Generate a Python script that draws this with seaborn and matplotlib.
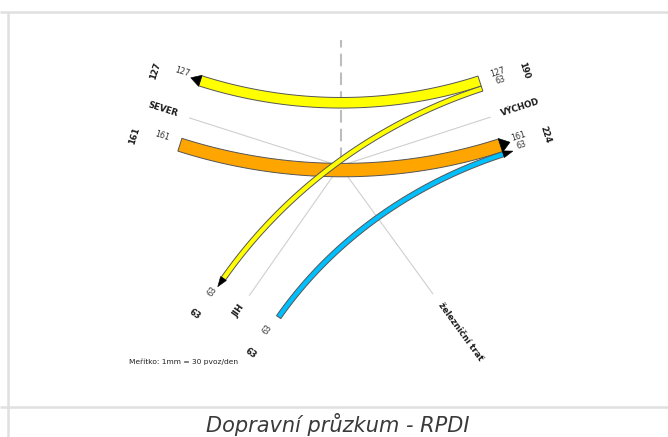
import numpy as np
import pandas as pd
import matplotlib
matplotlib.use("Agg")
import matplotlib.pyplot as plt
import seaborn as sns
from matplotlib.patches import Polygon

# ---------------- data ----------------
arm_names = ["SEVER", "VÝCHOD", "JIH", "železniční trať"]
flow_from = ["SEVER", "JIH", "VÝCHOD", "VÝCHOD"]
flow_to = ["VÝCHOD", "VÝCHOD", "SEVER", "JIH"]
flow_values = [161, 63, 127, 63]
title_text = "Dopravní průzkum - RPDI"
scale_text = "Meřítko: 1mm = 30 pvoz/den"

# ---------------- layout / style ----------------
arm_angles = {"SEVER": 162.3, "VÝCHOD": 18.0, "JIH": 235.0, "železniční trať": 306.0}
flow_colors = ["#FFA500", "#00BFFF", "#FFFF00", "#FFFF00"]
lane_gap = {("SEVER", "in"): 21.7, ("SEVER", "out"): 33.4,
            ("VÝCHOD", "in"): 27.1, ("VÝCHOD", "out"): 23.2,
            ("JIH", "in"): 33.8, ("JIH", "out"): 28.3,
            ("železniční trať", "in"): 28.0, ("železniční trať", "out"): 28.0}
center = np.array([340.0, 166.0])
R_END = 159.0
PX_PER_UNIT = 1 / 12.0
ARROW_LEN = 10.0

sns.set_theme(style="white")
plt.rcParams['font.family'] = ['DejaVu Sans']

fig = plt.figure(figsize=(6.68, 4.37), dpi=100)
ax = fig.add_axes([0, 0, 1, 1])
ax.set_xlim(0, 668)
ax.set_ylim(437, 0)
ax.axis("off")


def unit(a):
    r = np.radians(a)
    return np.array([np.cos(r), -np.sin(r)])


def entry_normal(a):
    u = unit(a)
    return np.array([u[1], -u[0]])


def norm180(a):
    return (a + 180) % 360 - 180


def text_rot(a):
    a = norm180(a)
    if -90 < a <= 90:
        return a, True
    return norm180(a - 180), False


# frame lines
ax.plot([0, 668], [12, 12], color="#e0e0e0", lw=1.8, solid_capstyle="butt")
ax.plot([0, 668], [407, 407], color="#e0e0e0", lw=1.8, solid_capstyle="butt")
ax.plot([8, 8], [12, 437], color="#e0e0e0", lw=1.8, solid_capstyle="butt")

# arm guide lines via seaborn
rows = []
for name in arm_names:
    u = unit(arm_angles[name])
    for r in (8, 158):
        p = center + u * r
        rows.append({"arm": name, "x": p[0], "y": p[1], "r": r})
arm_df = pd.DataFrame(rows)
sns.lineplot(data=arm_df, x="x", y="y", units="arm", estimator=None, sort=False,
             color="#cfcfcf", lw=0.8, ax=ax, legend=False)

# dashed vertical reference
ax.plot([center[0] + 1, center[0] + 1], [center[1] - 6, 40], color="#bdbdbd", lw=1.5,
        dashes=(6, 3), zorder=1)

# lane offsets
widths = [v * PX_PER_UNIT for v in flow_values]
start_off = {}
end_off = {}
lane_total = {}
for name in arm_names:
    a = arm_angles[name]
    ins = [i for i in range(len(flow_values)) if flow_from[i] == name]
    ins.sort(key=lambda i: -((arm_angles[flow_to[i]] - a) % 360))
    cum = lane_gap[(name, "in")]
    for i in ins:
        start_off[i] = cum + widths[i] / 2
        cum += widths[i]
    lane_total[(name, "in")] = sum(flow_values[i] for i in ins)
    outs = [i for i in range(len(flow_values)) if flow_to[i] == name]
    outs.sort(key=lambda i: ((arm_angles[flow_from[i]] - a) % 360))
    cum = lane_gap[(name, "out")]
    for i in outs:
        end_off[i] = cum + widths[i] / 2
        cum += widths[i]
    lane_total[(name, "out")] = sum(flow_values[i] for i in outs)

t = np.linspace(0, 1, 100)[:, None]
for i in range(len(flow_values)):
    aA = arm_angles[flow_from[i]]
    aB = arm_angles[flow_to[i]]
    uA, uB = unit(aA), unit(aB)
    eA, eB = entry_normal(aA), entry_normal(aB)
    P0 = center + uA * R_END + eA * start_off[i]
    P3 = center + uB * R_END - eB * end_off[i]
    k = 0.34 * np.linalg.norm(P3 - P0)
    P1 = P0 - uA * k
    P2 = P3 - uB * k
    B = ((1 - t) ** 3) * P0 + 3 * ((1 - t) ** 2) * t * P1 + 3 * (1 - t) * t ** 2 * P2 + t ** 3 * P3
    D = 3 * ((1 - t) ** 2) * (P1 - P0) + 6 * (1 - t) * t * (P2 - P1) + 3 * t ** 2 * (P3 - P2)
    D = D / np.linalg.norm(D, axis=1)[:, None]
    N = np.column_stack([-D[:, 1], D[:, 0]])
    w = widths[i]
    left = B + N * w / 2
    right = B - N * w / 2
    poly = np.vstack([left, right[::-1]])
    ax.add_patch(Polygon(poly, closed=True, facecolor=flow_colors[i],
                         edgecolor="#555555", lw=0.7, zorder=3 + i))
    bw = max(w + 1.0, 7.0)
    tip = P3 + uB * ARROW_LEN
    tri = np.array([P3 + eB * bw / 2, tip, P3 - eB * bw / 2])
    ax.add_patch(Polygon(tri, closed=True, facecolor="black", edgecolor="black",
                         lw=0.4, zorder=3 + i))

    # value labels
    rotA, _ = text_rot(aA)
    pA = center + uA * 178 + eA * start_off[i] + np.array([0, -3])
    ax.text(pA[0], pA[1], str(flow_values[i]), rotation=rotA, rotation_mode="anchor",
            ha="center", va="center", fontsize=5.8, color="#333333", zorder=10)
    rotB, _ = text_rot(aB)
    pB = center + uB * 178 - eB * end_off[i] + np.array([0, -3])
    ax.text(pB[0], pB[1], str(flow_values[i]), rotation=rotB, rotation_mode="anchor",
            ha="center", va="center", fontsize=5.8, color="#333333", zorder=10)

# arm labels and totals
for name in arm_names:
    a = arm_angles[name]
    u, e = unit(a), entry_normal(a)
    rot, outward = text_rot(a)
    p = center + u * 170
    ax.text(p[0], p[1], name, rotation=rot, rotation_mode="anchor",
            ha="left" if outward else "right", va="center", fontsize=6.2,
            fontweight="bold", color="#1a1a1a", zorder=10)
    prot = norm180(a - 90)
    if prot > 90:
        prot -= 180
    if prot <= -90:
        prot += 180
    for side, sgn in (("in", 1), ("out", -1)):
        tot = lane_total[(name, side)]
        if tot > 0:
            q = center + u * 205 + e * 34 * sgn
            ax.text(q[0], q[1], str(tot), rotation=prot, rotation_mode="anchor",
                    ha="center", va="center", fontsize=6, fontweight="bold",
                    color="#1a1a1a", zorder=10)

ax.text(129, 362, scale_text, ha="left", va="center", fontsize=5.4, color="#222222")
ax.text(338, 432, title_text, ha="center", va="baseline", fontsize=15,
        style="italic", color="#3a3a3a")

fig.savefig("out.png", dpi=100)
